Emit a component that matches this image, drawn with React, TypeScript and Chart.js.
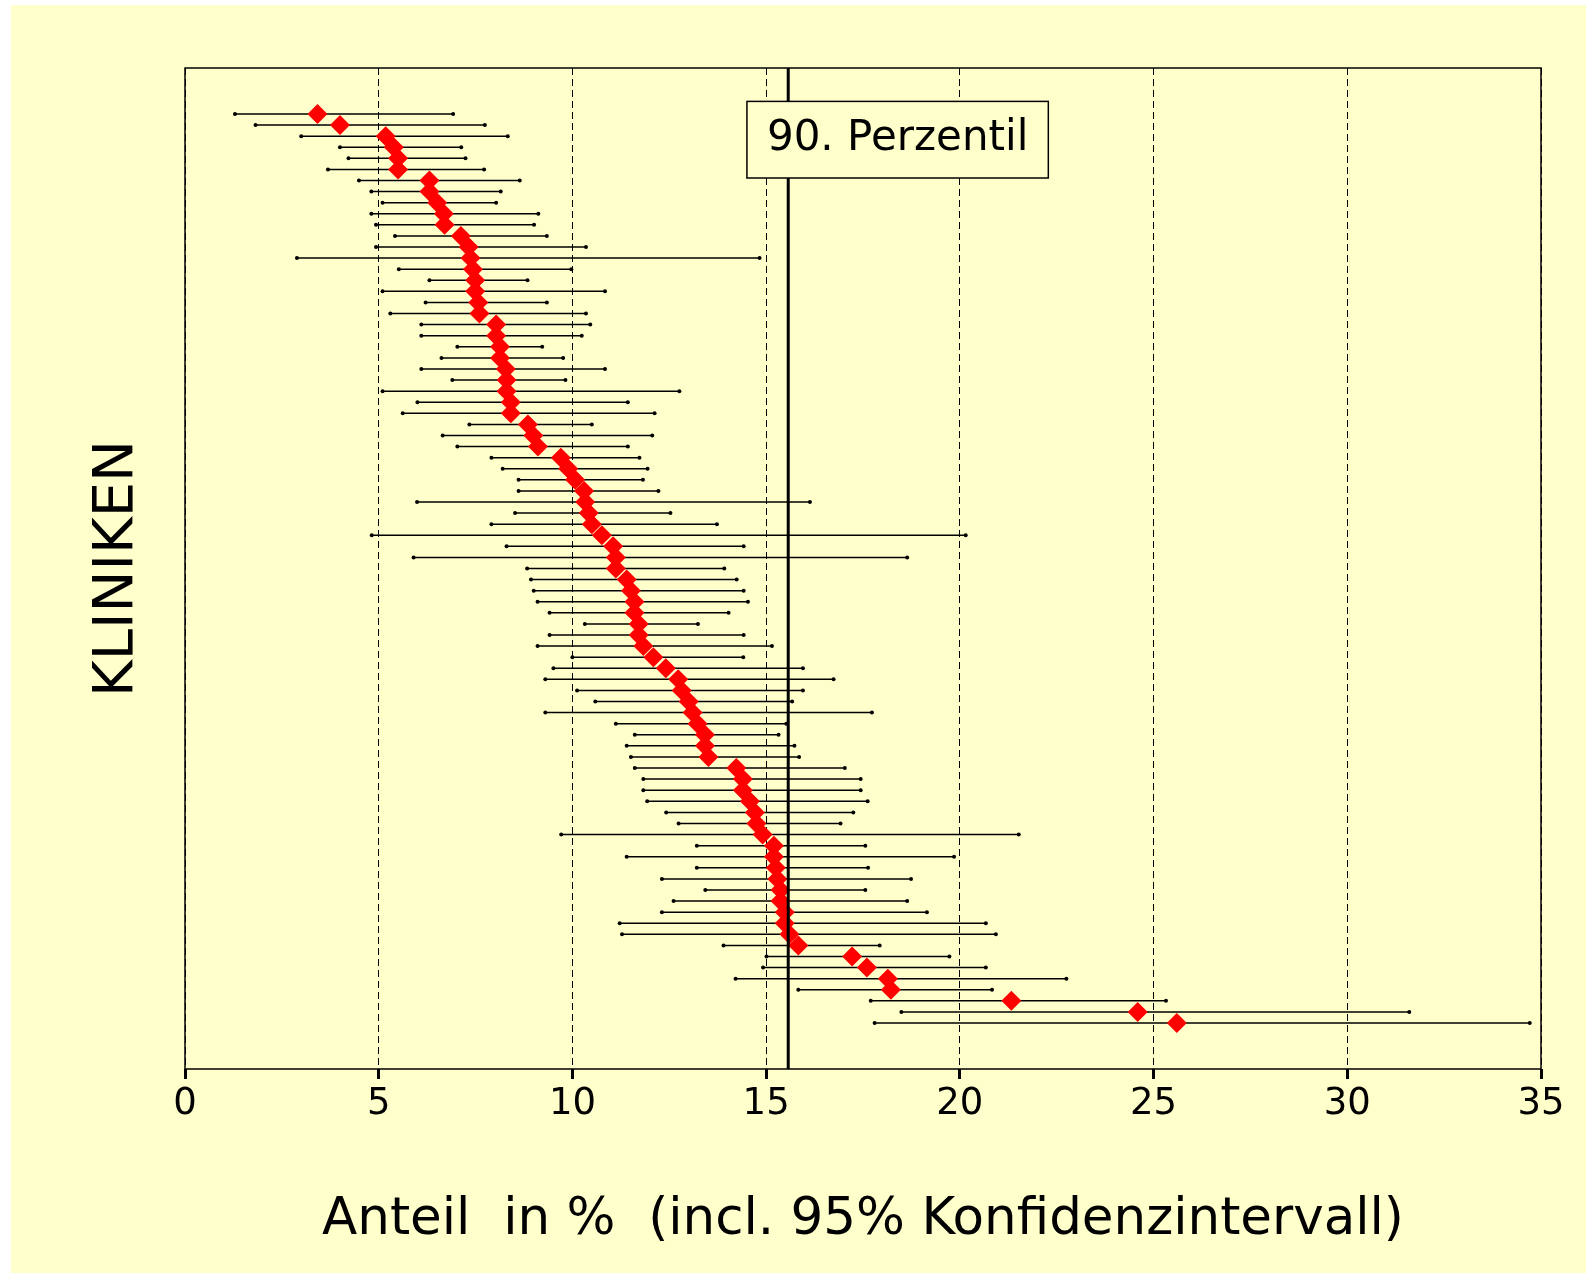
import React, { useEffect, useRef } from 'react';
import { Chart, registerables } from 'chart.js';

Chart.register(...registerables);

// ---- data ----
const lows = [
  1.29, 1.82, 3.0, 4.0, 4.22, 3.69, 4.49, 4.81, 5.1, 4.81,
  4.93, 5.42, 4.93, 2.89, 5.52, 6.31, 5.1, 6.21, 5.3, 6.1,
  6.1, 7.03, 6.62, 6.1, 6.9, 5.1, 6.0, 5.62, 7.34, 6.65,
  7.03, 7.91, 8.2, 8.61, 8.61, 5.99, 8.52, 7.91, 4.82, 8.3,
  5.9, 8.83, 8.93, 9.0, 9.1, 9.41, 10.32, 9.41, 9.1, 10.0,
  9.51, 9.3, 10.12, 10.59, 9.3, 11.12, 11.61, 11.4, 11.51, 11.61,
  11.83, 11.83, 11.93, 12.42, 12.74, 9.71, 13.21, 11.4, 13.21, 12.31,
  13.43, 12.61, 12.31, 11.22, 11.28, 13.9, 15.01, 14.92, 14.21, 15.83,
  17.7, 18.49, 17.8,
];
const points = [
  3.42, 4.0, 5.18, 5.39, 5.5, 5.5, 6.31, 6.31, 6.51, 6.68,
  6.7, 7.12, 7.32, 7.37, 7.43, 7.49, 7.49, 7.57, 7.6, 8.03,
  8.03, 8.13, 8.13, 8.28, 8.3, 8.3, 8.41, 8.41, 8.85, 8.99,
  9.11, 9.7, 9.89, 10.07, 10.3, 10.33, 10.42, 10.5, 10.76, 11.05,
  11.12, 11.12, 11.4, 11.51, 11.6, 11.6, 11.71, 11.71, 11.83, 12.09,
  12.41, 12.73, 12.82, 13.0, 13.1, 13.23, 13.42, 13.42, 13.51, 14.23,
  14.4, 14.4, 14.58, 14.71, 14.75, 14.91, 15.2, 15.2, 15.25, 15.29,
  15.37, 15.37, 15.48, 15.48, 15.6, 15.83, 17.22, 17.6, 18.14, 18.22,
  21.33, 24.59, 25.6,
];
const highs = [
  6.92, 7.74, 8.33, 7.13, 7.24, 7.72, 8.64, 8.15, 8.03, 9.12,
  9.01, 9.34, 10.35, 14.83, 9.97, 8.84, 10.84, 9.34, 10.35, 10.46,
  10.24, 9.22, 9.76, 10.84, 9.82, 12.76, 11.43, 12.12, 10.5, 12.06,
  11.43, 11.73, 11.94, 11.82, 12.22, 16.13, 12.53, 13.73, 20.15, 14.42,
  18.64, 13.92, 14.24, 14.42, 14.53, 14.03, 13.24, 14.42, 15.15, 14.41,
  15.95, 16.74, 15.95, 15.67, 17.73, 15.52, 15.32, 15.73, 15.85, 17.03,
  17.44, 17.44, 17.62, 17.25, 16.92, 21.52, 17.56, 19.85, 17.63, 18.74,
  17.56, 18.64, 19.15, 20.67, 20.93, 17.93, 19.73, 20.67, 22.75, 20.83,
  25.32, 31.6, 34.71,
];
const clinics = lows.map((_, i) => i + 1);
const xTicks = [0, 5, 10, 15, 20, 25, 30, 35];
const percentile90 = 15.57;
const percentileLabel = '90. Perzentil';
const xTitle = 'Anteil  in %  (incl. 95% Konfidenzintervall)';
const yTitle = 'KLINIKEN';

const FONT = '"DejaVu Sans", Verdana, sans-serif';
const YMIN = -3.15;
const YMAX = 87.15;

const framePlugin = {
  id: 'frameAndLabel',
  afterDatasetsDraw(chart: any) {
    const { ctx, chartArea, scales } = chart;
    ctx.save();
    // plot frame
    ctx.strokeStyle = '#000';
    ctx.lineWidth = 1.5;
    ctx.setLineDash([]);
    ctx.strokeRect(chartArea.left, chartArea.top, chartArea.right - chartArea.left, chartArea.bottom - chartArea.top);
    // label box for the percentile line
    ctx.font = `42px ${FONT}`;
    const tw = ctx.measureText(percentileLabel).width;
    const px = scales.x.getPixelForValue(percentile90);
    const bx = px - 41.3;
    const by = chartArea.top + 33.4;
    const bw = tw + 40;
    const bh = 76.6;
    ctx.fillStyle = '#FFFFCC';
    ctx.fillRect(bx, by, bw, bh);
    ctx.lineWidth = 1.5;
    ctx.strokeRect(bx, by, bw, bh);
    ctx.fillStyle = '#000';
    ctx.textBaseline = 'alphabetic';
    ctx.textAlign = 'left';
    ctx.fillText(percentileLabel, bx + 20, by + 49);
    ctx.restore();
  },
};

export default function App() {
  const ref = useRef<HTMLCanvasElement | null>(null);

  useEffect(() => {
    if (!ref.current) return;
    const errData: any[] = [];
    clinics.forEach((c, i) => {
      errData.push({ x: lows[i], y: c });
      errData.push({ x: highs[i], y: c });
      errData.push({ x: null, y: null });
    });
    const chart = new Chart(ref.current, {
      type: 'scatter',
      data: {
        datasets: [
          {
            label: 'p90',
            data: [
              { x: percentile90, y: YMIN },
              { x: percentile90, y: YMAX },
            ],
            showLine: true,
            borderColor: '#000',
            borderWidth: 3,
            pointRadius: 0,
          },
          {
            label: 'Anteil',
            data: clinics.map((c, i) => ({ x: points[i], y: c })),
            showLine: false,
            pointStyle: 'rectRot',
            pointRadius: 10,
            pointHoverRadius: 10,
            backgroundColor: '#FF0000',
            borderColor: '#FF0000',
            borderWidth: 0,
          },
          {
            label: 'KI',
            data: errData,
            showLine: true,
            spanGaps: false,
            borderColor: '#000',
            borderWidth: 1.5,
            pointRadius: 2,
            pointBackgroundColor: '#000',
            pointBorderWidth: 0,
          },
        ],
      },
      options: {
        responsive: false,
        animation: false,
        devicePixelRatio: 1,
        layout: { padding: { top: 63, right: 45, left: 0, bottom: 0 } },
        plugins: { legend: { display: false }, tooltip: { enabled: false } },
        scales: {
          x: {
            type: 'linear',
            min: 0,
            max: 35,
            afterBuildTicks: (scale: any) => {
              scale.ticks = xTicks.map((v) => ({ value: v }));
            },
            afterFit: (scale: any) => {
              scale.height = 204;
            },
            ticks: {
              font: { family: FONT, size: 37 },
              color: '#000',
              padding: 3,
              maxRotation: 0,
              autoSkip: false,
            },
            grid: {
              color: '#000',
              lineWidth: 1,
              tickLength: 10,
              tickWidth: 3,
              tickColor: '#000',
            },
            border: { display: false, dash: [7, 4] },
            title: {
              display: true,
              text: xTitle,
              color: '#000',
              font: { family: FONT, size: 51.5 },
              padding: { top: 0, bottom: 21 },
            },
          },
          y: {
            type: 'linear',
            min: YMIN,
            max: YMAX,
            reverse: true,
            afterFit: (scale: any) => {
              scale.width = 174;
            },
            ticks: { display: false },
            grid: { display: false },
            border: { display: false },
            title: {
              display: true,
              text: yTitle,
              color: '#000',
              font: { family: FONT, size: 56 },
              padding: { top: 73, bottom: 0 },
            },
          },
        },
      },
      plugins: [framePlugin],
    } as any);
    return () => chart.destroy();
  }, []);

  return (
    <div style={{ position: 'absolute', left: 0, top: 0, width: 1586, height: 1273, background: '#FFFFFF', overflow: 'hidden' }}>
      <canvas
        ref={ref}
        width={1575}
        height={1268}
        style={{ position: 'absolute', left: 11, top: 5, width: 1575, height: 1268, background: '#FFFFCC' }}
      />
    </div>
  );
}
